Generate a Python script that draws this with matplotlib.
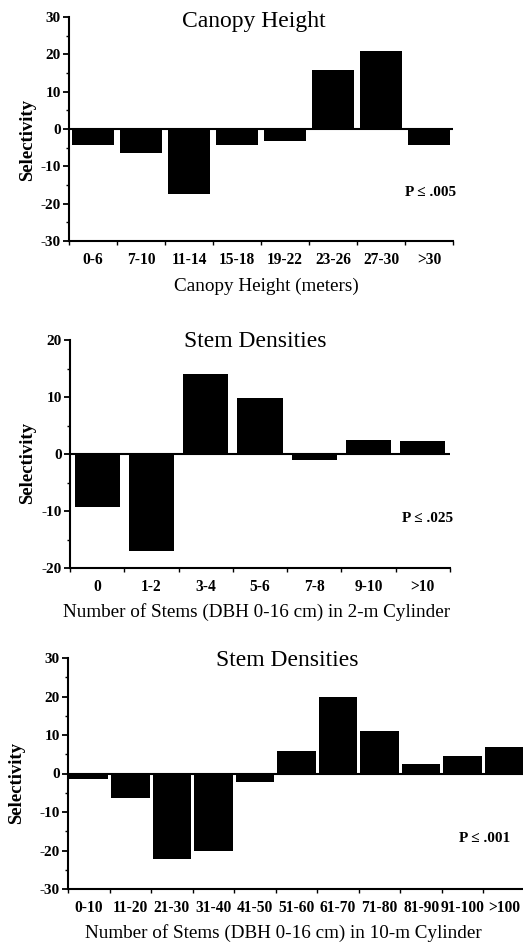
import matplotlib
matplotlib.use("Agg")
import matplotlib.pyplot as plt
import numpy as np
from matplotlib.ticker import MultipleLocator, FixedLocator

plt.rcParams["font.family"] = ["Liberation Serif", "DejaVu Serif"]
plt.rcParams["axes.unicode_minus"] = False

canopy_labels = ["0-6", "7-10", "11-14", "15-18", "19-22", "23-26", "27-30", ">30"]
canopy_values = [-4.3, -6.4, -17.4, -4.3, -3.2, 15.9, 20.9, -4.3]

stems2_labels = ["0", "1-2", "3-4", "5-6", "7-8", "9-10", ">10"]
stems2_values = [-9.3, -17.1, 14.0, 9.9, -1.1, 2.4, 2.2]

stems10_labels = ["0-10", "11-20", "21-30", "31-40", "41-50", "51-60",
                  "61-70", "71-80", "81-90", "91-100", ">100"]
stems10_values = [-1.3, -6.4, -22.3, -20.2, -2.1, 5.8, 19.8, 11.0, 2.5, 4.6, 7.0]

W, H = 523, 943


def px_axes(fig, left, right, top, bottom):
    return fig.add_axes([left / W, 1 - bottom / H, (right - left) / W, (bottom - top) / H])


def draw_panel(fig, box, labels, values, ylim, barw, title, title_xy,
               xlabel, xlabel_xy, ylabel_xy, ptext, p_xy):
    ax = px_axes(fig, *box)
    n = len(labels)
    x = np.arange(n)
    ax.bar(x, values, width=barw, color="black", zorder=2)
    ax.axhline(0, color="black", lw=1.5, zorder=3)
    ax.set_xlim(-0.5, n - 0.5)
    ax.set_ylim(*ylim)

    for s in ["top", "right"]:
        ax.spines[s].set_visible(False)
    for s in ["left", "bottom"]:
        ax.spines[s].set_linewidth(1.5)

    ax.yaxis.set_major_locator(MultipleLocator(10))
    ax.yaxis.set_minor_locator(MultipleLocator(5))
    ax.tick_params(axis="y", which="major", direction="out", length=4, width=1.3,
                   pad=2, labelsize=11)
    ax.tick_params(axis="y", which="minor", direction="out", length=2, width=1.0)
    for t in ax.get_yticklabels():
        t.set_fontweight("bold")

    ax.set_xticks(x)
    ax.set_xticklabels(labels, fontsize=11.2, fontweight="bold")
    ax.xaxis.set_minor_locator(FixedLocator(np.arange(n + 1) - 0.5))
    ax.tick_params(axis="x", which="major", length=0, pad=8)
    ax.tick_params(axis="x", which="minor", direction="out", length=3, width=1.0)

    fig.text(title_xy[0] / W, 1 - title_xy[1] / H, title, fontsize=17,
             ha="center", va="center")
    fig.text(xlabel_xy[0] / W, 1 - xlabel_xy[1] / H, xlabel, fontsize=13.8,
             ha="center", va="center")
    fig.text(ylabel_xy[0] / W, 1 - ylabel_xy[1] / H, "Selectivity", fontsize=13.5,
             fontweight="bold", rotation=90, ha="center", va="center")
    fig.text(p_xy[0] / W, 1 - p_xy[1] / H, ptext, fontsize=11, fontweight="bold",
             ha="center", va="center")
    return ax


fig = plt.figure(figsize=(W / 100, H / 100), dpi=100)

draw_panel(fig, (69, 453, 17, 241), canopy_labels, canopy_values, (-30, 30), 0.87,
           "Canopy Height", (254, 21), "Canopy Height (meters)", (266, 286),
           (28, 140), "P \u2264 .005", (431, 193))

draw_panel(fig, (70, 450, 340, 568), stems2_labels, stems2_values, (-20, 20), 0.83,
           "Stem Densities", (255, 342), "Number of Stems (DBH 0-16 cm) in 2-m Cylinder",
           (257, 612), (28, 463), "P \u2264 .025", (428, 518))

draw_panel(fig, (68, 525, 658, 889), stems10_labels, stems10_values, (-30, 30), 0.93,
           "Stem Densities", (287, 660), "Number of Stems (DBH 0-16 cm) in 10-m Cylinder",
           (283, 933), (17, 783), "P \u2264 .001", (485, 838))

fig.savefig("out.png", dpi=100)
